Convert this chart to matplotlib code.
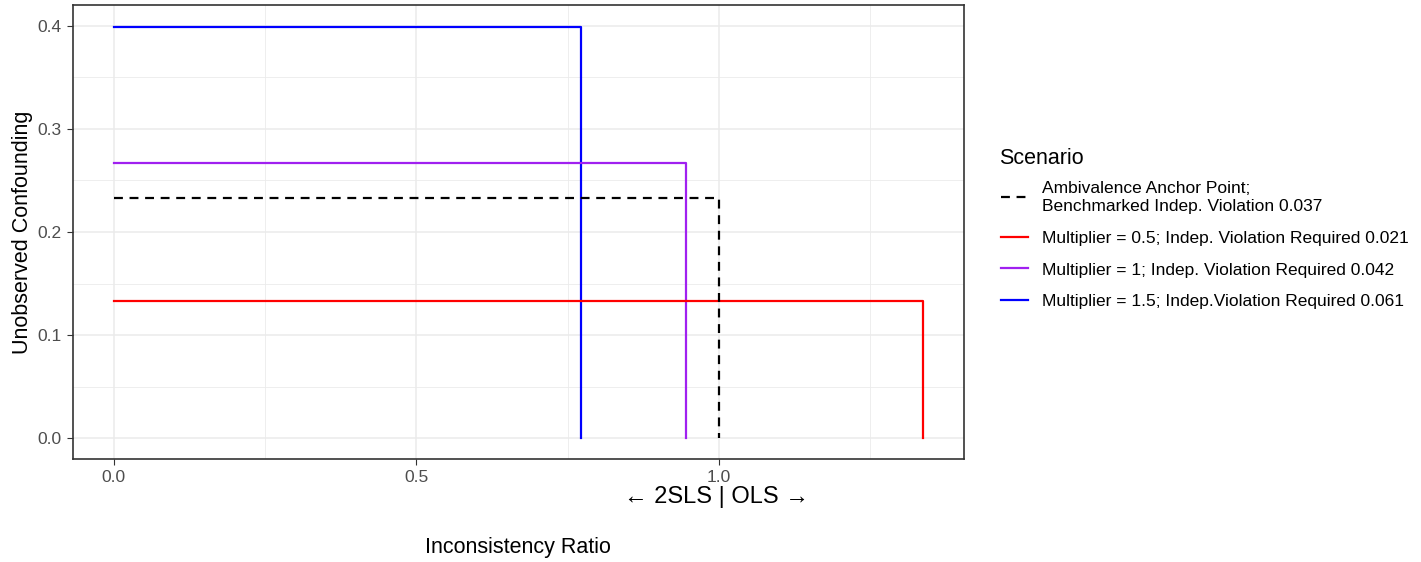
import matplotlib.pyplot as plt
from matplotlib.ticker import MultipleLocator

plt.rcParams["font.family"] = ["Liberation Sans", "DejaVu Sans"]

# Scenario data
scenarios = [
    "Ambivalence Anchor Point;\nBenchmarked Indep. Violation 0.037",
    "Multiplier = 0.5; Indep. Violation Required 0.021",
    "Multiplier = 1; Indep. Violation Required 0.042",
    "Multiplier = 1.5; Indep.Violation Required 0.061",
]
ratio_end = [1.0, 1.338, 0.946, 0.773]
confounding = [0.233, 0.133, 0.267, 0.399]
colors = ["black", "#FF0000", "#A020F0", "#0000FF"]
styles = ["--", "-", "-", "-"]

fig = plt.figure(figsize=(14.21, 5.62), dpi=100)
ax = fig.add_axes([73 / 1421, 1 - 459 / 562, (964 - 73) / 1421, (459 - 5) / 562])

# draw in reverse so blue ends up on top like the reference
handles = [None] * len(scenarios)
for i in reversed(range(len(scenarios))):
    xs = [0, ratio_end[i], ratio_end[i]]
    ys = [confounding[i], confounding[i], 0]
    (ln,) = ax.plot(xs, ys, color=colors[i], linestyle=styles[i], lw=1.6,
                    dashes=(4, 3) if styles[i] == "--" else (None, None))
    handles[i] = ln

ax.set_xlim(-0.067, 1.405)
ax.set_ylim(-0.02, 0.42)
ax.xaxis.set_minor_locator(MultipleLocator(0.25))
ax.yaxis.set_minor_locator(MultipleLocator(0.05))
ax.set_xticks([0, 0.5, 1.0])
ax.set_xticklabels(["0.0", "0.5", "1.0"])
ax.set_yticks([0, 0.1, 0.2, 0.3, 0.4])
ax.set_yticklabels(["0.0", "0.1", "0.2", "0.3", "0.4"])
ax.grid(which="major", color="#EBEBEB", lw=1.1)
ax.grid(which="minor", color="#EBEBEB", lw=0.6)
ax.set_axisbelow(True)
ax.tick_params(which="major", length=4, color="#333333", labelsize=12.5,
               labelcolor="#4D4D4D", width=0.8, pad=4)
ax.tick_params(which="minor", length=0)
for s in ax.spines.values():
    s.set_color("#333333")
    s.set_linewidth(1.2)

ax.set_ylabel("Unobserved Confounding", fontsize=15.5, labelpad=3)
fig.text(716 / 1421, 1 - 497 / 562, "\u2190 2SLS | OLS \u2192", fontsize=17,
         ha="center", va="center")
fig.text(518 / 1421, 1 - 547 / 562, "Inconsistency Ratio", fontsize=15.5,
         ha="center", va="center")

# legend
fig.text(999 / 1421, 1 - 158 / 562, "Scenario", fontsize=15.5,
         ha="left", va="center")
leg = fig.legend(handles=handles, labels=scenarios,
                 loc="upper left", bbox_to_anchor=(985 / 1421, 1 - 165 / 562),
                 frameon=False, fontsize=12.5,
                 handlelength=1.6, handletextpad=0.8, labelspacing=0.95)
leg.get_texts()[0].set_linespacing(1.3)

fig.savefig("out.png", dpi=100)
